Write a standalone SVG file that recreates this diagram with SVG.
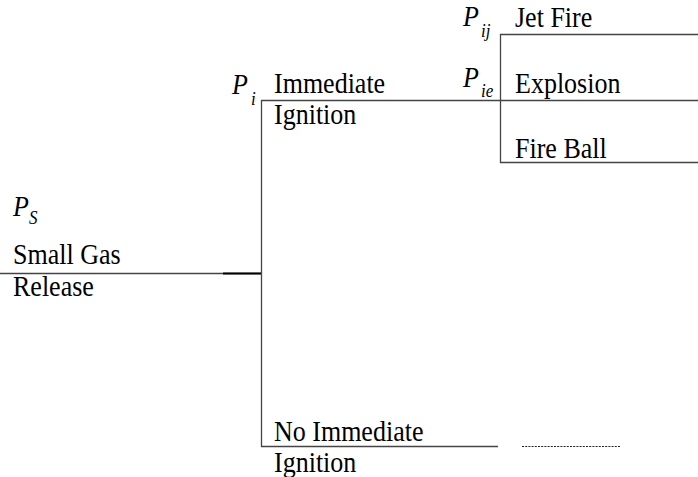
<svg xmlns="http://www.w3.org/2000/svg" width="698" height="477" viewBox="0 0 698 477">
<style>
text{font-family:"Liberation Serif","Times New Roman",serif;font-size:26px;fill:#000}
.p{font-style:italic;font-size:26px}
.s{font-style:italic;font-size:17px}
.ln{stroke:#444;stroke-width:1.3;fill:none}
</style>
<rect width="698" height="477" fill="#fff"/>
<g id="connectors">
<line class="ln" x1="0" y1="273.5" x2="262" y2="273.5"/>
<line x1="223" y1="273.5" x2="262" y2="273.5" stroke="#000" stroke-width="2"/>
<line class="ln" x1="261.5" y1="100" x2="261.5" y2="447"/>
<line class="ln" x1="261" y1="100.5" x2="698" y2="100.5"/>
<line class="ln" x1="261" y1="446.5" x2="498" y2="446.5"/>
<line x1="522" y1="446.5" x2="620" y2="446.5" stroke="#222" stroke-width="1.2" stroke-dasharray="2,1.2"/>
<line class="ln" x1="500.5" y1="34" x2="500.5" y2="163"/>
<line class="ln" x1="500" y1="34.5" x2="698" y2="34.5"/>
<line class="ln" x1="500" y1="162.5" x2="698" y2="162.5"/>
</g>
<g id="small-gas-release">
<text class="p" transform="translate(13,216) scale(1,1.1)">P</text>
<text class="s" transform="translate(29,224) scale(1,1.1)">S</text>
<text transform="translate(13,264) scale(1,1.1)">Small Gas</text>
<text transform="translate(13,296) scale(1,1.1)">Release</text>
</g>
<g id="immediate-ignition">
<text class="p" transform="translate(232,94) scale(1,1.1)">P</text>
<text class="s" transform="translate(251,105) scale(1,1.1)">i</text>
<text transform="translate(274,93) scale(1,1.1)">Immediate</text>
<text transform="translate(274,124) scale(1,1.1)">Ignition</text>
</g>
<g id="no-immediate-ignition">
<text transform="translate(274,441) scale(1,1.1)">No Immediate</text>
<text transform="translate(274,472) scale(1,1.1)">Ignition</text>
</g>
<g id="jet-fire">
<text class="p" transform="translate(463,26) scale(1,1.1)">P</text>
<text class="s" transform="translate(481,37) scale(1,1.1)">ij</text>
<text transform="translate(515,27) scale(1,1.1)">Jet Fire</text>
</g>
<g id="explosion">
<text class="p" transform="translate(463,87) scale(1,1.1)">P</text>
<text class="s" transform="translate(481,97) scale(1,1.1)">ie</text>
<text transform="translate(515,93) scale(1,1.1)">Explosion</text>
</g>
<g id="fire-ball">
<text transform="translate(515,158) scale(1,1.1)">Fire Ball</text>
</g>
</svg>
